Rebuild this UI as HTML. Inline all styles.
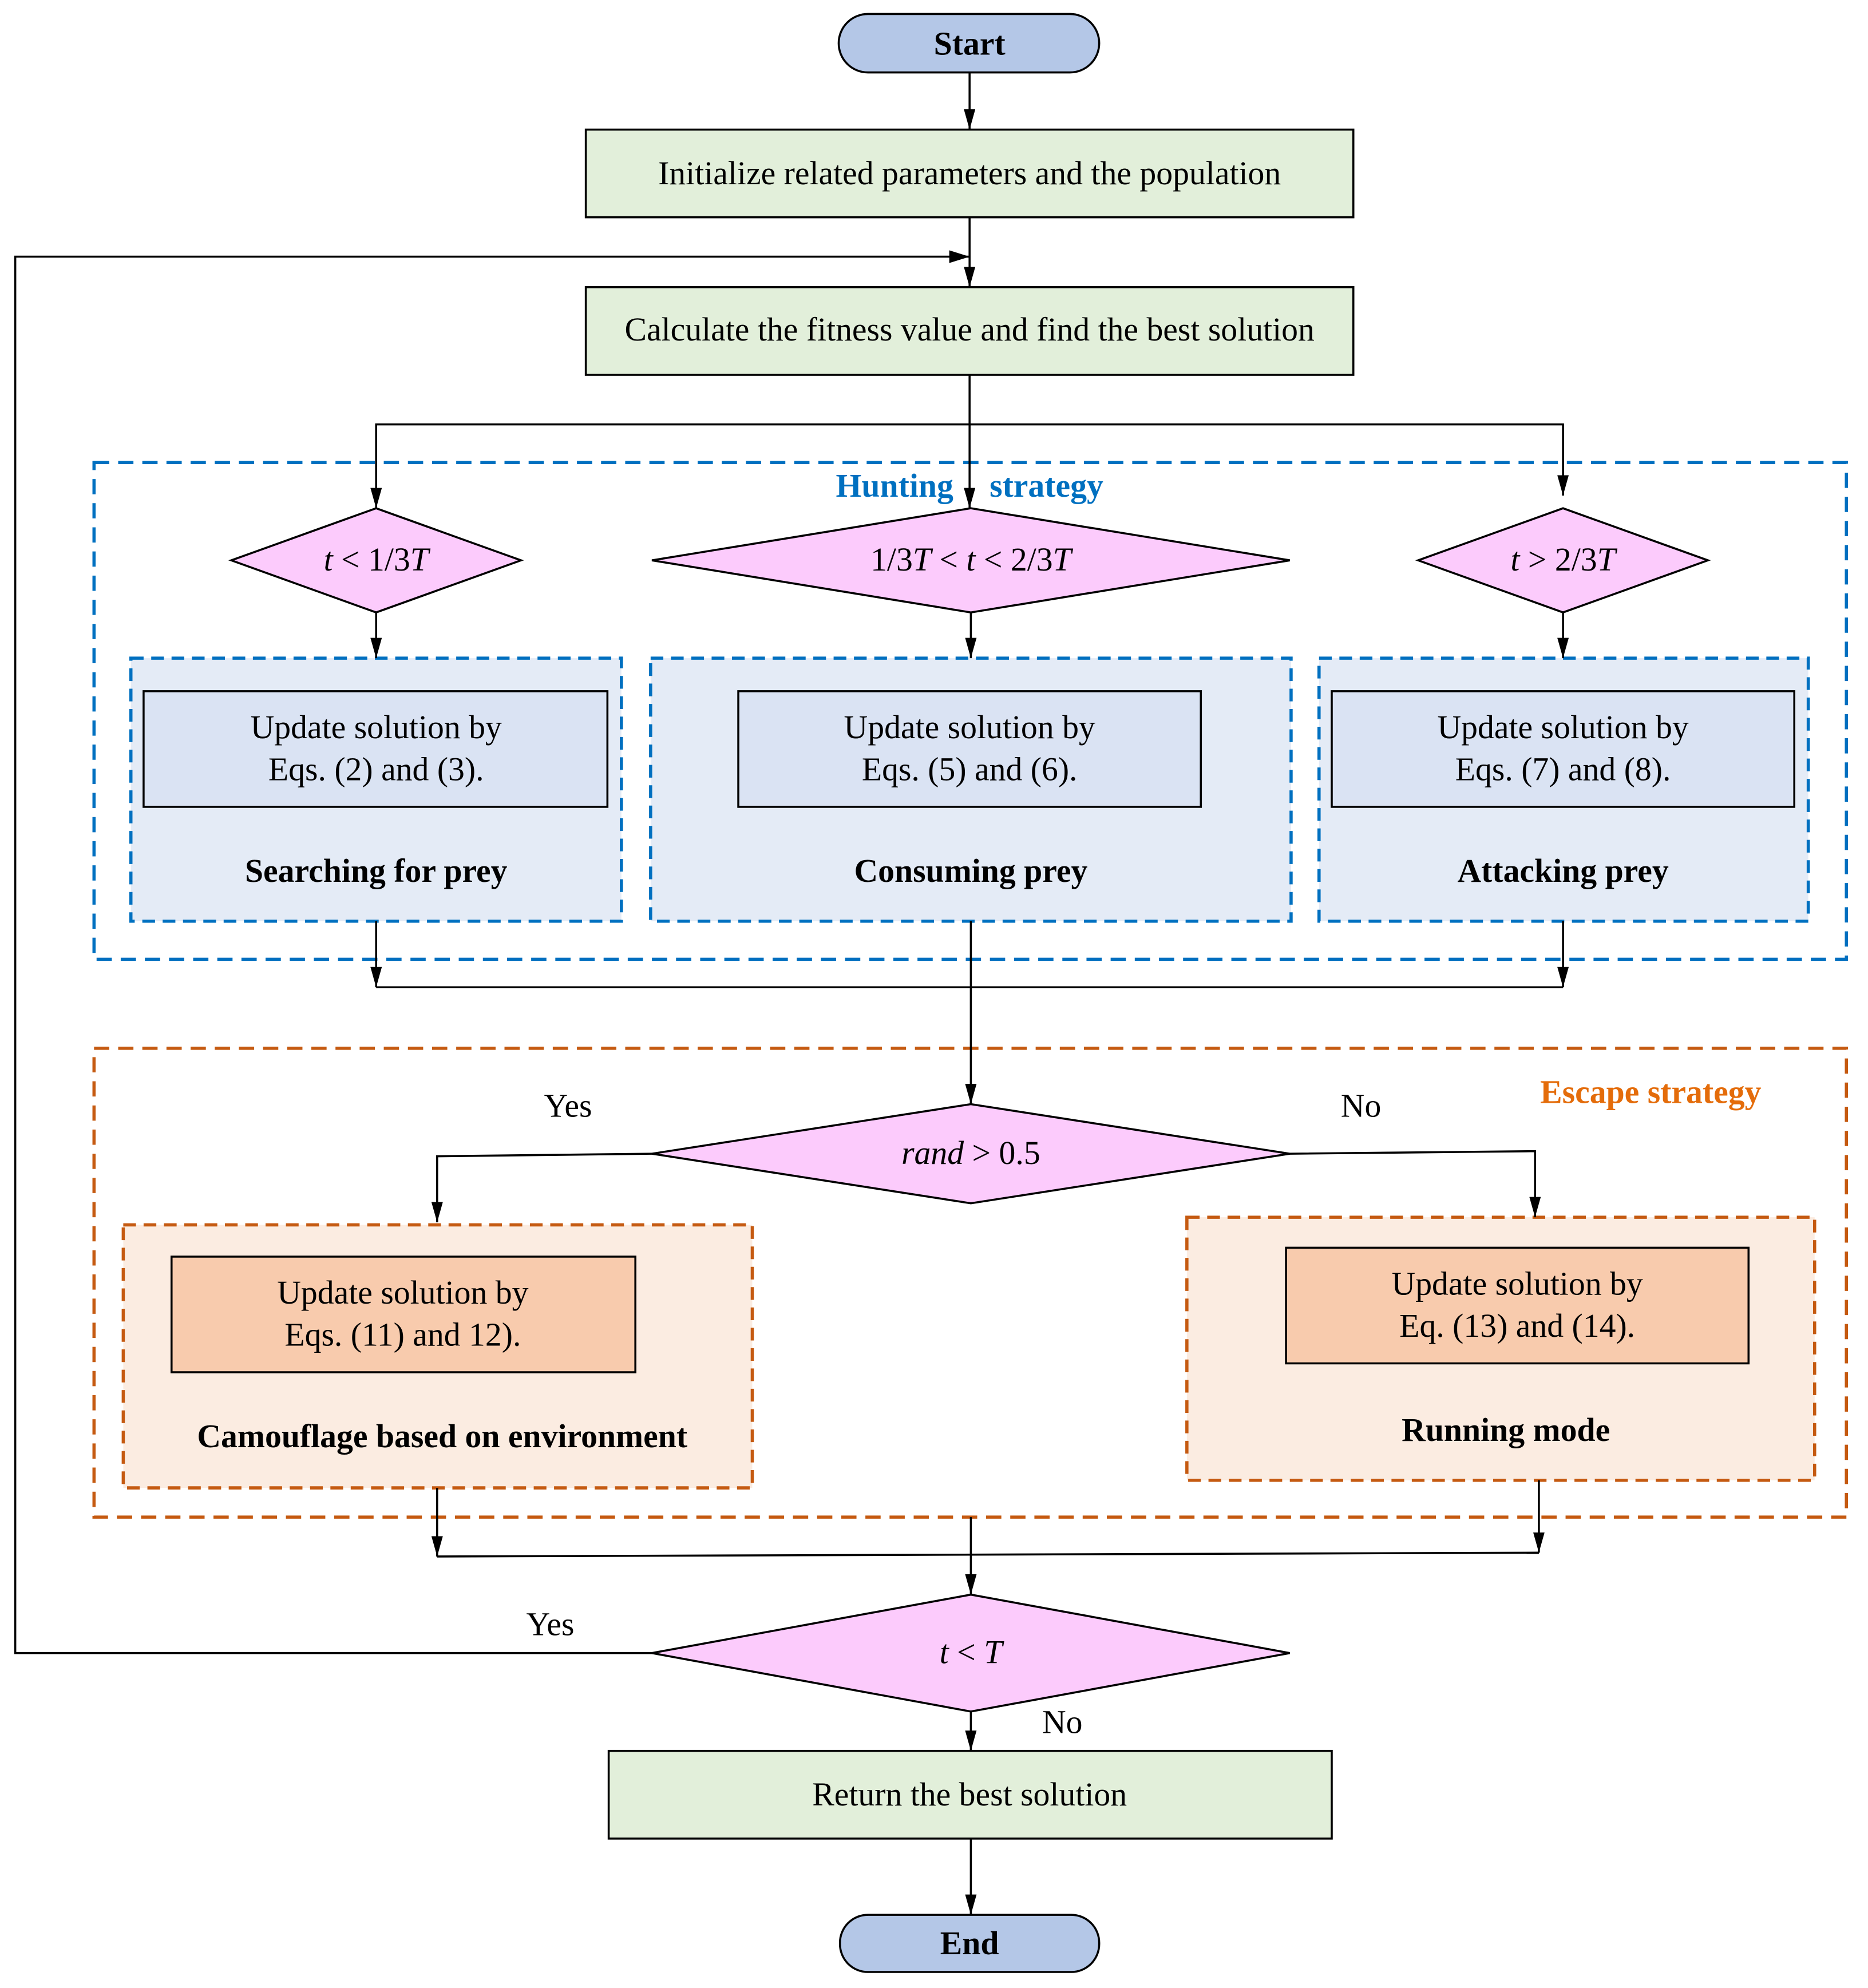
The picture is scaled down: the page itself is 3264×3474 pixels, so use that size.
<!DOCTYPE html>
<html><head><meta charset="utf-8"><style>
html,body{margin:0;padding:0;background:#fff;}
svg{display:block;}
text{font-family:"Liberation Serif",serif;font-size:26px;fill:#000;}
.b{font-weight:bold;}
</style></head><body>
<svg width="3264" height="3474" viewBox="0 0 1470 1564.6" preserveAspectRatio="none" xmlns="http://www.w3.org/2000/svg">
<defs>
<marker id="a" viewBox="0 0 10 10" refX="10" refY="5" markerWidth="16" markerHeight="9" markerUnits="userSpaceOnUse" orient="auto" preserveAspectRatio="none"><path d="M0,0 L10,5 L0,10 z" fill="#000"/></marker>
<marker id="al" viewBox="0 0 10 10" refX="10" refY="5" markerWidth="16" markerHeight="10" markerUnits="userSpaceOnUse" orient="auto" preserveAspectRatio="none"><path d="M0,0 L10,5 L0,10 z" fill="#000"/></marker>
</defs>
<g stroke="#000" stroke-width="1.6" fill="none">
<rect x="74" y="364" width="1379" height="391" stroke="#0070c0" stroke-width="2.5" stroke-dasharray="12,7"/>
<rect x="74" y="825" width="1379" height="369" stroke="#c55a11" stroke-width="2.5" stroke-dasharray="12,7"/>
<rect x="103" y="518" width="386" height="207" fill="#e4ebf6" stroke="#0070c0" stroke-width="2.5" stroke-dasharray="10,6"/>
<rect x="512" y="518" width="504" height="207" fill="#e4ebf6" stroke="#0070c0" stroke-width="2.5" stroke-dasharray="10,6"/>
<rect x="1038" y="518" width="385" height="207" fill="#e4ebf6" stroke="#0070c0" stroke-width="2.5" stroke-dasharray="10,6"/>
<rect x="97" y="964" width="495" height="207" fill="#fbece1" stroke="#c55a11" stroke-width="2.5" stroke-dasharray="10,6"/>
<rect x="934" y="958" width="494" height="207" fill="#fbece1" stroke="#c55a11" stroke-width="2.5" stroke-dasharray="10,6"/>
<rect x="660" y="11" width="205" height="46" rx="23" fill="#b4c7e7"/>
<rect x="461" y="102" width="604" height="69" fill="#e2efda"/>
<rect x="461" y="226" width="604" height="69" fill="#e2efda"/>
<polygon points="182,441 296,400 410,441 296,482" fill="#fccbfc"/>
<polygon points="513,441 764,400 1015,441 764,482" fill="#fccbfc"/>
<polygon points="1116,441 1230,400 1344,441 1230,482" fill="#fccbfc"/>
<rect x="113" y="544" width="365" height="91" fill="#dae3f3"/>
<rect x="581" y="544" width="364" height="91" fill="#dae3f3"/>
<rect x="1048" y="544" width="364" height="91" fill="#dae3f3"/>
<polygon points="513,908 764,869 1015,908 764,947" fill="#fccbfc"/>
<rect x="135" y="989" width="365" height="91" fill="#f8cbad"/>
<rect x="1012" y="982" width="364" height="91" fill="#f8cbad"/>
<polygon points="513,1301 764,1255 1015,1301 764,1347" fill="#fccbfc"/>
<rect x="479" y="1378" width="569" height="69" fill="#e2efda"/>
<rect x="661" y="1507" width="204" height="45" rx="22" fill="#b4c7e7"/>
<path d="M763,57 V102" marker-end="url(#a)"/>
<path d="M763,171 V226" marker-end="url(#a)"/>
<path d="M513,1301 H12 V202 H763" marker-end="url(#al)"/>
<path d="M763,295 V400" marker-end="url(#a)"/>
<path d="M296,400 V334 H1230 V390" marker-end="url(#a)"/>
<path d="M296,334 V400" marker-end="url(#a)"/>
<path d="M296,482 V518" marker-end="url(#a)"/>
<path d="M764,482 V518" marker-end="url(#a)"/>
<path d="M1230,482 V518" marker-end="url(#a)"/>
<path d="M296,725 V777" marker-end="url(#a)"/>
<path d="M1230,725 V777" marker-end="url(#a)"/>
<path d="M296,777 H1230"/>
<path d="M764,725 V869" marker-end="url(#a)"/>
<path d="M513,908 L344,910 V962" marker-end="url(#a)"/>
<path d="M1015,908 L1208,906 V958" marker-end="url(#a)"/>
<path d="M344,1171 V1225" marker-end="url(#a)"/>
<path d="M1211,1165 V1222" marker-end="url(#a)"/>
<path d="M344,1225 L1211,1222"/>
<path d="M764,1194 V1255" marker-end="url(#a)"/>
<path d="M764,1347 V1378" marker-end="url(#a)"/>
<path d="M764,1447 V1507" marker-end="url(#a)"/>
</g>
<g text-anchor="middle">
<text x="763" y="43" class="b">Start</text>
<text x="763" y="145">Initialize related parameters and the population</text>
<text x="763" y="268">Calculate the fitness value and find the best solution</text>
<text x="763" y="391" class="b" style="fill:#0070c0">Hunting <tspan dx="22">strategy</tspan></text>
<text x="296" y="449"><tspan font-style="italic">t</tspan> &lt; 1/3<tspan font-style="italic">T</tspan></text>
<text x="764" y="449">1/3<tspan font-style="italic">T</tspan> &lt; <tspan font-style="italic">t</tspan> &lt; 2/3<tspan font-style="italic">T</tspan></text>
<text x="1230" y="449"><tspan font-style="italic">t</tspan> &gt; 2/3<tspan font-style="italic">T</tspan></text>
<text x="296" y="581">Update solution by</text><text x="296" y="614">Eqs. (2) and (3).</text>
<text x="763" y="581">Update solution by</text><text x="763" y="614">Eqs. (5) and (6).</text>
<text x="1230" y="581">Update solution by</text><text x="1230" y="614">Eqs. (7) and (8).</text>
<text x="296" y="694" class="b">Searching for prey</text>
<text x="764" y="694" class="b">Consuming prey</text>
<text x="1230" y="694" class="b">Attacking prey</text>
<text x="1299" y="868" class="b" style="fill:#e46c0a">Escape strategy</text>
<text x="447" y="879">Yes</text>
<text x="1071" y="879">No</text>
<text x="764" y="916"><tspan font-style="italic">rand</tspan> &gt; 0.5</text>
<text x="317" y="1026">Update solution by</text><text x="317" y="1059">Eqs. (11) and 12).</text>
<text x="1194" y="1019">Update solution by</text><text x="1194" y="1052">Eq. (13) and (14).</text>
<text x="348" y="1139" class="b">Camouflage based on environment</text>
<text x="1185" y="1134" class="b">Running mode</text>
<text x="433" y="1287">Yes</text>
<text x="764" y="1309" font-style="italic">t <tspan font-style="normal">&lt;</tspan> T</text>
<text x="836" y="1364">No</text>
<text x="763" y="1421">Return the best solution</text>
<text x="763" y="1538" class="b">End</text>
</g>
</svg>
</body></html>
